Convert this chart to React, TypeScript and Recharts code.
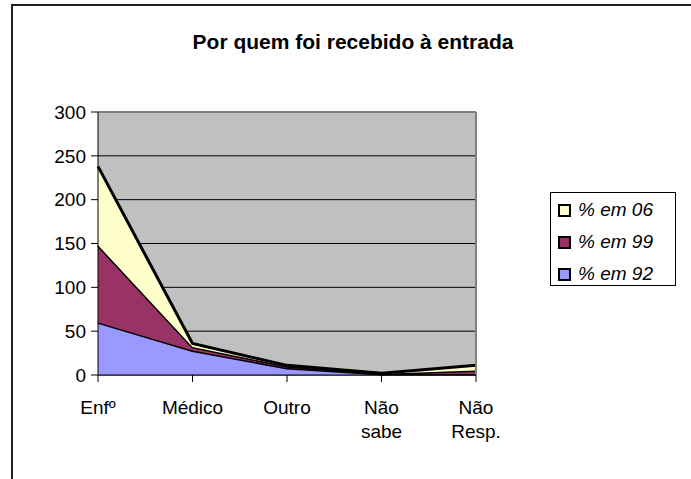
import { AreaChart, Area, XAxis, YAxis, CartesianGrid, ReferenceLine } from "recharts";

const categories = ["Enfº", "Médico", "Outro", "Não sabe", "Não Resp."];
const em92 = [60, 28, 8, 1, 1];
const em99 = [88, 4, 2, 0.5, 4];
const em06 = [90, 4, 1, 0.5, 6];
const yTicks = [0, 50, 100, 150, 200, 250, 300];

const series = [
  { key: "em92", name: "% em 92", color: "#9999FF" },
  { key: "em99", name: "% em 99", color: "#993366" },
  { key: "em06", name: "% em 06", color: "#FFFFCC" },
];

const data = categories.map((c, i) => ({ cat: c, em92: em92[i], em99: em99[i], em06: em06[i] }));

const font = "'Liberation Sans', Arial, sans-serif";

function XTick(props: any) {
  const { x, y, payload } = props;
  const lines = String(payload.value).split(" ");
  return (
    <text x={x} y={y + 30} textAnchor="middle" fontSize={19} fontFamily={font} fill="#000">
      {lines.map((l, i) => (
        <tspan key={i} x={x} dy={i === 0 ? 0 : 24}>{l}</tspan>
      ))}
    </text>
  );
}

export default function App() {
  return (
    <div style={{ position: "absolute", left: 0, top: 0, width: 691, height: 479, background: "#fff", overflow: "hidden" }}>
      <div style={{ position: "absolute", left: 11, top: 4, width: 700, height: 500, borderTop: "2px solid #222", borderLeft: "2px solid #222" }} />
      <div style={{ position: "absolute", left: 11, width: 684, top: 30, textAlign: "center", fontFamily: font, fontWeight: "bold", fontSize: 21 }}>
        Por quem foi recebido à entrada
      </div>
      <AreaChart width={691} height={479} data={data} margin={{ top: 112, right: 215, left: 38, bottom: 44 }}>
        <CartesianGrid vertical={false} fill="#C0C0C0" fillOpacity={1} stroke="#000" />
        <XAxis dataKey="cat" height={60} tickSize={7} stroke="#000" tick={<XTick />} interval={0} />
        <YAxis domain={[0, 300]} ticks={yTicks} width={60} tickSize={7} tickMargin={5} stroke="#000"
          tick={{ fontSize: 19, fontFamily: font, fill: "#000" }} />
        {series.map((s) => (
          <Area key={s.key} type="linear" dataKey={s.key} name={s.name} stackId="1" stroke="#000" strokeWidth={3}
            fill={s.color} fillOpacity={1} isAnimationActive={false} />
        ))}
        <ReferenceLine y={300} stroke="#808080" strokeWidth={2} />
        <ReferenceLine x="Não Resp." stroke="#808080" strokeWidth={2} />
      </AreaChart>
      <div style={{ position: "absolute", left: 550, top: 192, width: 124, height: 92, border: "1px solid #000", fontFamily: font, fontStyle: "italic", fontSize: 19 }}>
        {[...series].reverse().map((s, i) => (
          <div key={s.key} style={{ position: "absolute", left: 7, top: 6 + i * 32, height: 22, display: "flex", alignItems: "center" }}>
            <span style={{ display: "inline-block", width: 9, height: 9, background: s.color, border: "2px solid #000", marginRight: 7 }} />
            <span>{s.name}</span>
          </div>
        ))}
      </div>
    </div>
  );
}
